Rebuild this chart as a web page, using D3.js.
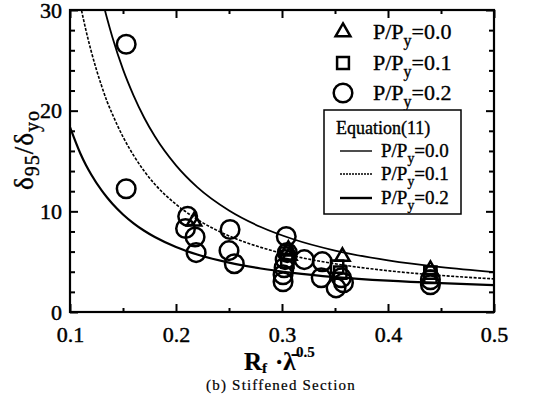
<!DOCTYPE html>
<html>
<head>
<meta charset="utf-8">
<script src="https://cdn.jsdelivr.net/npm/d3@7/dist/d3.min.js"></script>
<style>
  html, body { margin: 0; padding: 0; background: #fff; }
  svg { display: block; }
</style>
</head>
<body>
<svg id="chart" width="541" height="394"></svg>
<script>
// Test data: R_f * lambda^0.5 vs delta95/delta_y0, by axial load ratio
const tri01 = [[0.217, 9.0], [0.306, 6.2], [0.307, 5.6], [0.357, 5.5], [0.44, 4.2]];   // P/Py = 0.0
const sq01  = [[0.305, 5.0], [0.304, 5.8], [0.352, 4.5], [0.355, 3.9], [0.44, 3.9], [0.44, 3.5]]; // P/Py = 0.1
const circ02 = [
  [0.153, 26.6], [0.153, 12.25],
  [0.211, 9.5], [0.209, 8.3], [0.218, 7.45], [0.219, 5.9],
  [0.251, 8.2], [0.250, 6.1], [0.255, 4.8],
  [0.304, 7.5], [0.305, 5.9], [0.303, 5.2], [0.302, 4.4], [0.301, 3.7], [0.301, 3.0],
  [0.321, 5.2], [0.338, 5.0], [0.337, 3.4],
  [0.351, 2.4], [0.358, 2.9], [0.356, 3.4],
  [0.44, 3.2], [0.44, 2.7]
];                                                                                      // P/Py = 0.2

// Equation (11) curves, sampled along the abscissa
const eqX   = [0.10, 0.11, 0.115, 0.12, 0.13, 0.135, 0.14, 0.15, 0.16, 0.17, 0.18, 0.20, 0.22, 0.25, 0.28, 0.31, 0.35, 0.40, 0.45, 0.50];
const eqP00 = [null, null, null, null, 31.2, 29.15, 27.3, 24.1, 21.5, 19.3, 17.45, 14.56, 12.4, 10.08, 8.44, 7.25, 6.1, 5.13, 4.45, 3.96];
const eqP01 = [null, 30.4, 28.0, 25.9, 22.4, 20.9, 19.65, 17.4, 15.56, 14.0, 12.7, 10.7, 9.2, 7.56, 6.42, 5.59, 4.79, 4.1, 3.63, 3.29];
const eqP02 = [18.37, 15.7, 14.6, 13.66, 12.05, 11.37, 10.75, 9.69, 8.81, 8.07, 7.45, 6.46, 5.71, 4.9, 4.32, 3.89, 3.47, 3.11, 2.86, 2.67];

const xMajor = [0.1, 0.2, 0.3, 0.4, 0.5];
const xMinor = [0.15, 0.25, 0.35, 0.45];
const yMajor = [0, 10, 20, 30];
const yMinor = [2, 4, 6, 8, 12, 14, 16, 18, 22, 24, 26, 28];

const SERIF = "'Liberation Serif', 'Times New Roman', Times, serif";
const svg = d3.select("#chart");
const L = 70, R = 494, T = 10, B = 312;
const x = d3.scaleLinear().domain([0.1, 0.5]).range([L, R]);
const y = d3.scaleLinear().domain([0, 30]).range([B, T]);

svg.append("clipPath").attr("id", "plotClip")
  .append("rect").attr("x", L).attr("y", T).attr("width", R - L).attr("height", B - T);

// ticks, all pointing inward, on all four sides
function tickAxis(gen, vals, size, tr, labels) {
  const g = svg.append("g").attr("transform", tr)
    .call(gen.tickValues(vals).tickSize(size).tickPadding(labels ? 12 : 0)
      .tickFormat(labels ? (d => d3.format("")(d)) : ""));
  g.attr("font-family", SERIF).attr("font-size", 22);
  g.select(".domain").remove();
  g.selectAll(".tick line").attr("stroke", "#000").attr("stroke-width", 2);
  g.selectAll("text").style("font-family", SERIF).style("font-size", "22px")
    .attr("fill", "#000").attr("stroke", "#000").attr("stroke-width", 0.45);
  return g;
}
const bx = tickAxis(d3.axisBottom(x), xMajor, -8, `translate(0,${B})`, true);
bx.selectAll("text").attr("y", 9).attr("dy", "0.95em");
tickAxis(d3.axisBottom(x), xMinor, -4, `translate(0,${B})`, false);
tickAxis(d3.axisTop(x), xMajor, -8, `translate(0,${T})`, false);
tickAxis(d3.axisTop(x), xMinor, -4, `translate(0,${T})`, false);
const ly = tickAxis(d3.axisLeft(y), yMajor, -8, `translate(${L},0)`, true);
ly.selectAll("text").attr("x", -8);
tickAxis(d3.axisLeft(y), yMinor, -5, `translate(${L},0)`, false);
tickAxis(d3.axisRight(y), yMajor, -8, `translate(${R},0)`, false);
tickAxis(d3.axisRight(y), yMinor, -5, `translate(${R},0)`, false);

// frame
svg.append("rect").attr("x", L).attr("y", T).attr("width", R - L).attr("height", B - T)
  .attr("fill", "none").attr("stroke", "#000").attr("stroke-width", 2.2);

// equation curves
const plot = svg.append("g").attr("clip-path", "url(#plotClip)");
const line = d3.line().defined(d => d[1] != null)
  .x(d => x(d[0])).y(d => y(d[1])).curve(d3.curveMonotoneX);
const curves = [
  { vals: eqP00, w: 1.8, dash: null },
  { vals: eqP01, w: 1.6, dash: "3,1.5" },
  { vals: eqP02, w: 2.2, dash: null }
];
curves.forEach(c => {
  plot.append("path").datum(eqX.map((v, i) => [v, c.vals[i]]))
    .attr("d", line).attr("fill", "none").attr("stroke", "#000")
    .attr("stroke-width", c.w).attr("stroke-dasharray", c.dash);
});

// markers
const triPath = d3.symbol().type(d3.symbolTriangle).size(90);
const sqPath = d3.symbol().type(d3.symbolSquare).size(150);
plot.selectAll(".c").data(circ02).join("circle")
  .attr("cx", d => x(d[0])).attr("cy", d => y(d[1])).attr("r", 9.3)
  .attr("fill", "none").attr("stroke", "#000").attr("stroke-width", 2.5);
plot.selectAll(".s").data(sq01).join("path")
  .attr("d", sqPath).attr("transform", d => `translate(${x(d[0])},${y(d[1])})`)
  .attr("fill", "none").attr("stroke", "#000").attr("stroke-width", 2.5);
plot.selectAll(".t").data(tri01).join("path")
  .attr("d", triPath).attr("transform", d => `translate(${x(d[0])},${y(d[1])})`)
  .attr("fill", "none").attr("stroke", "#000").attr("stroke-width", 2.5);

// text helper with the serif face set directly on the element
function txt(parent, xx, yy, size, sw = 0.35) {
  return parent.append("text").attr("x", xx).attr("y", yy)
    .style("font-family", SERIF).style("font-size", size + "px")
    .attr("fill", "#000").attr("stroke", "#000").attr("stroke-width", sw);
}

// symbol legend
const legRows = [
  { sym: "tri", cy: 32, lab: "0.0" },
  { sym: "sq", cy: 63, lab: "0.1" },
  { sym: "circ", cy: 93, lab: "0.2" }
];
function ppyLabel(g, xx, yy, size, val) {
  const t = txt(g, xx, yy, size);
  t.append("tspan").text("P/P");
  t.append("tspan").attr("dy", size * 0.3).style("font-size", (size * 0.72) + "px").text("y");
  t.append("tspan").attr("dy", -size * 0.3).text("=" + val);
}
legRows.forEach(r => {
  if (r.sym === "circ") {
    svg.append("circle").attr("cx", 343).attr("cy", r.cy).attr("r", 9.3)
      .attr("fill", "none").attr("stroke", "#000").attr("stroke-width", 2.5);
  } else {
    svg.append("path").attr("d", r.sym === "tri" ? d3.symbol().type(d3.symbolTriangle).size(95)() : d3.symbol().type(d3.symbolSquare).size(140)())
      .attr("transform", `translate(343,${r.cy})`)
      .attr("fill", "none").attr("stroke", "#000").attr("stroke-width", 2.5);
  }
  ppyLabel(svg, 373, r.cy + 7, 22, r.lab);
});

// equation legend box
svg.append("rect").attr("x", 324).attr("y", 110).attr("width", 137).attr("height", 104)
  .attr("fill", "#fff").attr("stroke", "#000").attr("stroke-width", 1.5);
txt(svg, 336, 134, 18).text("Equation(11)");
const eqRows = [
  { cy: 151, w: 1.4, dash: null, lab: "0.0" },
  { cy: 174, w: 1.4, dash: "2,1", lab: "0.1" },
  { cy: 198, w: 2.4, dash: null, lab: "0.2" }
];
eqRows.forEach(r => {
  svg.append("line").attr("x1", 340).attr("x2", 372).attr("y1", r.cy).attr("y2", r.cy)
    .attr("stroke", "#000").attr("stroke-width", r.w).attr("stroke-dasharray", r.dash);
  ppyLabel(svg, 381, r.cy + 6, 19, r.lab);
});

// axis titles
const yt = txt(svg, 0, 0, 27).attr("transform", "translate(33,150) rotate(-90)")
  .attr("text-anchor", "middle").style("letter-spacing", "1px");
yt.append("tspan").text("δ");
yt.append("tspan").attr("dy", 6).style("font-size", "20px").text("95");
yt.append("tspan").attr("dy", -6).text("/δ");
yt.append("tspan").attr("dy", 6).style("font-size", "20px").text("yo");

const xt = txt(svg, 0, 370, 25, 0.2).style("font-weight", "bold");
xt.append("tspan").attr("x", 244).text("R");
xt.append("tspan").attr("dy", 3).style("font-size", "15px").text("f");
xt.append("tspan").attr("x", 275).attr("dy", -3).text("·λ̄");
xt.append("tspan").attr("x", 296).attr("dy", -13).style("font-size", "15px").text("0.5");

txt(svg, 281, 390, 15, 0.2).attr("text-anchor", "middle")
  .style("letter-spacing", "1.2px").text("(b) Stiffened Section");
</script>
</body>
</html>
